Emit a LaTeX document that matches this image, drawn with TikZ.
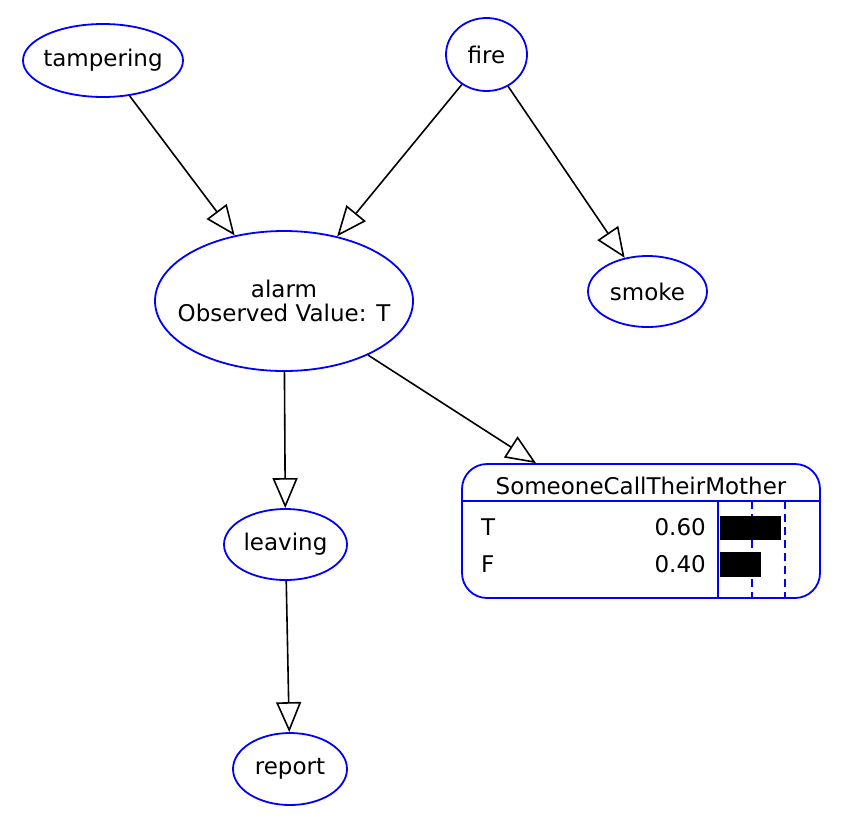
\documentclass[tikz,border=0pt]{standalone}
\usepackage{fontspec}
\setmainfont{DejaVu Sans}
\usetikzlibrary{arrows.meta,shapes.geometric}
\definecolor{nodeblue}{RGB}{0,0,255}
\tikzset{
	var/.style={draw=nodeblue, line width=1.8pt, ellipse, inner xsep=-20pt, inner ysep=0pt},
	link/.style={line width=1.6pt, -{Triangle[open, length=30pt, width=25pt, line width=1.6pt]}},
}

\begin{document}
\begin{tikzpicture}[x=1pt, y=-1pt, font=\fontsize{23}{24}\selectfont]
			%%%%% START %%%%%
			
			\useasboundingbox (0, 0) rectangle (850, 828);
			
			\node[var, minimum width=160, minimum height=73] (tampering) at (103, 60.5) {tampering};
			\node[var, minimum width=81, minimum height=73] (fire) at (486.5, 54.5) {fire};
			\node[var, minimum width=258, minimum height=140, align=center] (alarm) at (284, 301) {alarm\\Observed Value: T};
			\node[var, minimum width=119, minimum height=71] (smoke) at (647.5, 291.5) {smoke};
			\node[var, minimum width=123, minimum height=71] (leaving) at (285.5, 544.5) {leaving};
			\node[var, minimum width=114, minimum height=72] (report) at (290, 769) {report};
			
			\node[draw=nodeblue, line width=1.8pt, rounded corners=25pt, minimum width=358, minimum height=134, inner sep=0pt] (mother) at (641, 531) {};
			
			\draw[nodeblue, line width=1.6pt] (462, 501) -- (820, 501);
			\draw[nodeblue, line width=1.6pt] (718, 501) -- (718, 598);
			\draw[nodeblue, line width=1.6pt, dash pattern=on 8pt off 5pt] (752, 501) -- (752, 598);
			\draw[nodeblue, line width=1.6pt, dash pattern=on 8pt off 5pt] (785, 501) -- (785, 598);
			
			\node[anchor=base] (mothertitle) at (641, 494) {SomeoneCallTheirMother};
			\node[anchor=base west, inner sep=0pt] (rowT) at (481, 535) {T};
			\node[anchor=base west, inner sep=0pt] (rowF) at (481, 572) {F};
			\node[anchor=base east, inner sep=0pt] (probT) at (706, 535) {0.60};
			\node[anchor=base east, inner sep=0pt] (probF) at (706, 572) {0.40};
			
			\draw[fill=black] (720, 516) rectangle (780, 539);
			\draw[fill=black] (720, 552) rectangle (760, 576);
			
			\draw[link] (tampering) -- (alarm);
			\draw[link] (fire) -- (alarm);
			\draw[link] (fire) -- (smoke);
			\draw[link] (alarm) -- (leaving);
			\draw[link] (alarm) -- (mother);
			\draw[link] (leaving) -- (report);
			
			%%%%% END %%%%%
\end{tikzpicture}
\end{document}
